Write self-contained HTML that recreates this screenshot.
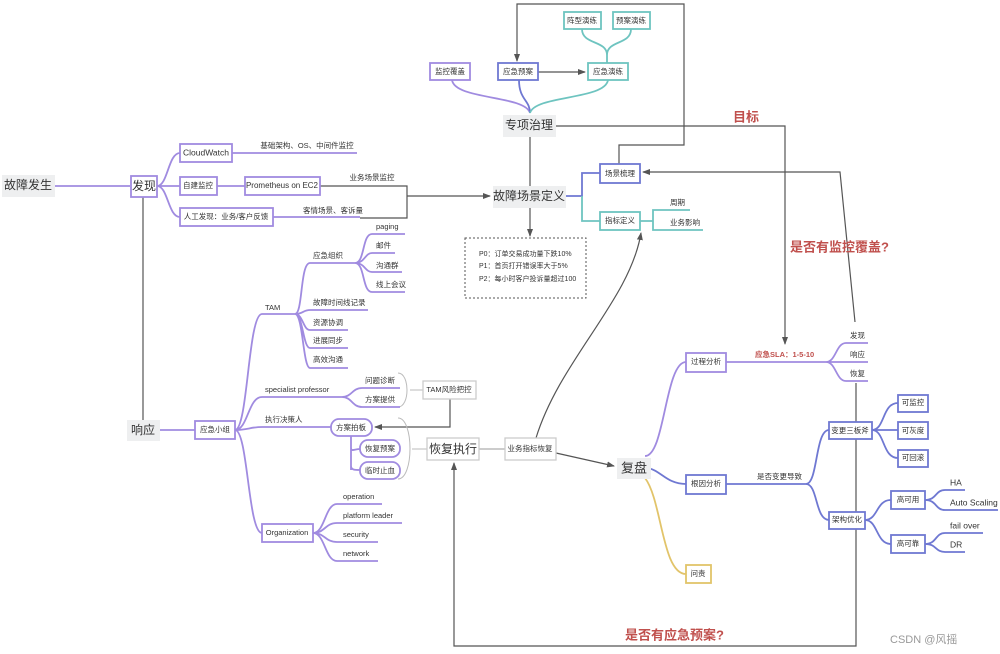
<!DOCTYPE html>
<html><head><meta charset="utf-8"><style>
html,body{margin:0;padding:0;background:#fff;}
svg{display:block;font-family:"Liberation Sans","Noto Sans CJK SC",sans-serif;}
text{fill:#333;font-size:7.5px;dominant-baseline:middle;}
.c{text-anchor:middle;}
.p{stroke:#a08be0;stroke-width:1.8;fill:none;}
.b{stroke:#6f78d2;stroke-width:1.8;fill:none;}
.t{stroke:#6ec4c0;stroke-width:1.8;fill:none;}
.y{stroke:#e2c46a;stroke-width:1.8;fill:none;}
.g{stroke:#555;stroke-width:1.2;fill:none;}
.lg{stroke:#ccc;stroke-width:2;fill:none;}
.bx{fill:#fff;stroke-width:1.8;}
.gb{fill:#eeeff0;}
.r{fill:#c0504d;font-weight:bold;}
</style></head><body>
<svg width="1000" height="654" viewBox="0 0 1000 654" xmlns="http://www.w3.org/2000/svg">
<defs><marker id="a" markerWidth="8" markerHeight="8" refX="7" refY="4" orient="auto" markerUnits="userSpaceOnUse"><path d="M0,1 L8,4 L0,7z" fill="#555"/></marker></defs>

<path class="g" d="M619,164 V145 H684 V4 H517 V61" marker-end="url(#a)"/>
<path class="g" d="M556,126 H785 V344" marker-end="url(#a)"/>
<path class="g" d="M855,322 L840,172 H643" marker-end="url(#a)"/>
<path class="g" d="M530,137 V186"/>
<path class="g" d="M530,207 V236" marker-end="url(#a)"/>
<path class="g" d="M538,72 H585" marker-end="url(#a)"/>
<path class="g" d="M320,186 H407 V218 H360"/>
<path class="g" d="M407,196 H490" marker-end="url(#a)"/>
<path class="g" d="M143,197 V420"/>
<path class="g" d="M450,399 V427 H375" marker-end="url(#a)"/>
<path class="g" d="M856,383 V646 H454 V463" marker-end="url(#a)"/>
<path class="g" d="M536,438 C560,360 630,300 641,233" marker-end="url(#a)"/>
<path class="g" d="M556,453 L614,466" marker-end="url(#a)"/>
<path class="lg" d="M479,449 H505"/>
<path d="M398,373 C410,373 410,407 398,407 M398,418 C414,418 414,479 398,479 M410,390 H423 M412,449 H427" stroke="#bbb" stroke-width="1" fill="none"/>

<path class="p" d="M55,186 H130"/>
<path class="p" d="M157,186 C168,186 168,153 180,153 M157,186 H180 M157,186 C168,186 168,217 180,217 M232,153 H357 M217,186 H245 M273,217 H360"/>
<path class="p" d="M160,430 H195"/>
<path class="p" d="M235,430 C248,430 248,314 262,314 H295 M235,430 C248,430 248,397 262,397 H342 M235,430 C248,430 250,427 262,427 H331 M235,430 C248,430 248,533 262,533"/>
<path class="p" d="M295,314 C303,314 300,263 310,263 H355 M295,314 C303,314 303,310 310,310 H368 M295,314 C303,314 303,330 310,330 H348 M295,314 C303,314 303,348 310,348 H348 M295,314 C303,314 303,368 310,368 H348"/>
<path class="p" d="M355,263 C365,263 362,234 372,234 H405 M355,263 C365,263 365,253 372,253 H395 M355,263 C365,263 365,272 372,272 H402 M355,263 C365,263 362,292 372,292 H405"/>
<path class="p" d="M342,397 C352,397 352,388 362,388 H400 M342,397 C352,397 352,407 362,407 H400"/>
<path class="p" d="M351,436 V470 M351,448 C351,452 355,449 360,449 M351,466 C351,470 355,470 360,470"/>
<path class="p" d="M313,533 C325,533 325,504 337,504 H382 M313,533 C325,533 325,523 337,523 H402 M313,533 C325,533 325,542 337,542 H378 M313,533 C325,533 325,561 337,561 H378"/>
<path class="p" d="M452,80 C455,100 525,95 530,113"/>
<path class="b" d="M519,80 C519,100 530,100 530,113"/>
<path class="t" d="M608,80 C605,100 535,95 530,113"/>
<path class="t" d="M582,29 C582,45 607,40 607,55 V63 M631,29 C631,45 607,40 607,55"/>
<path class="b" d="M566,196 H582 V173 H600"/>
<path class="t" d="M582,196 V221 H600 M640,221 H653 V210 H690 M653,221 V230 H703"/>
<path class="p" d="M645,456 C665,456 665,362 686,362 M726,362 H826 C836,362 836,343 846,343 H868 M826,362 H868 M826,362 C836,362 836,381 846,381 H868"/>
<path class="b" d="M645,468 C660,468 665,484 686,484 M726,484 H806 C818,484 815,430 829,430 M806,484 C818,484 815,520 829,520"/>
<path class="b" d="M872,430 C885,430 882,403 898,403 M872,430 H898 M872,430 C885,430 882,458 898,458"/>
<path class="b" d="M865,520 C878,520 876,500 891,500 M865,520 C878,520 876,544 891,544"/>
<path class="b" d="M925,500 C937,500 935,490 945,490 H965 M925,500 C937,500 935,510 945,510 H998 M925,544 C937,544 935,533 945,533 H983 M925,544 C937,544 935,552 945,552 H965"/>
<path class="y" d="M645,478 C662,500 662,574 686,574"/>

<rect class="gb" x="2" y="175" width="53" height="22"/><text x="28" y="186" class="c" style="font-size:12px">故障发生</text>
<rect class="gb" x="127" y="420" width="33" height="21"/><text x="143" y="431" class="c" style="font-size:12px">响应</text>
<rect class="gb" x="503" y="115" width="53" height="22"/><text x="529" y="126" class="c" style="font-size:12px">专项治理</text>
<rect class="gb" x="493" y="186" width="73" height="22"/><text x="529" y="197" class="c" style="font-size:12px">故障场景定义</text>
<rect class="gb" x="617" y="458" width="34" height="21"/><text x="634" y="469" class="c" style="font-size:13px">复盘</text>

<g stroke="#a08be0" class="bx">
<rect x="131" y="176" width="26" height="21"/><rect x="180" y="144" width="52" height="18"/><rect x="180" y="177" width="37" height="18"/><rect x="180" y="208" width="93" height="18"/><rect x="245" y="177" width="75" height="18"/><rect x="195" y="421" width="40" height="18"/><rect x="262" y="524" width="51" height="18"/><rect x="331" y="419" width="41" height="17" rx="8"/><rect x="360" y="440" width="40" height="17" rx="8"/><rect x="360" y="462" width="40" height="17" rx="8"/><rect x="430" y="63" width="40" height="17"/><rect x="686" y="353" width="40" height="19"/>
</g>
<g stroke="#6f78d2" class="bx">
<rect x="498" y="63" width="40" height="17"/><rect x="600" y="164" width="40" height="19"/><rect x="686" y="475" width="40" height="19"/><rect x="829" y="422" width="43" height="17"/><rect x="829" y="512" width="36" height="17"/><rect x="898" y="395" width="30" height="17"/><rect x="898" y="422" width="30" height="17"/><rect x="898" y="450" width="30" height="17"/><rect x="891" y="491" width="34" height="18"/><rect x="891" y="535" width="34" height="18"/>
</g>
<g stroke="#6ec4c0" class="bx">
<rect x="588" y="63" width="40" height="17"/><rect x="564" y="12" width="37" height="17"/><rect x="613" y="12" width="37" height="17"/><rect x="600" y="212" width="40" height="18"/>
</g>
<rect x="686" y="565" width="25" height="18" stroke="#e2c46a" class="bx"/>
<g stroke="#ccc" class="bx" style="stroke-width:1.3">
<rect x="423" y="381" width="53" height="18"/><rect x="427" y="438" width="52" height="22"/><rect x="505" y="438" width="51" height="22"/>
</g>
<rect x="465" y="238" width="121" height="60" fill="none" stroke="#555" stroke-dasharray="2,2"/>

<text x="144" y="187" class="c" style="font-size:12px">发现</text>
<text x="206" y="153" class="c" style="font-size:8.5px">CloudWatch</text>
<text x="198" y="186" class="c">自建监控</text>
<text x="226" y="217" class="c">人工发现：业务/客户反馈</text>
<text x="282" y="186" class="c" style="font-size:8px">Prometheus on EC2</text>
<text x="307" y="146" class="c">基础架构、OS、中间件监控</text>
<text x="372" y="178" class="c">业务场景监控</text>
<text x="333" y="211" class="c">客情场景、客诉量</text>
<text x="215" y="430" class="c">应急小组</text>
<text x="265" y="308">TAM</text>
<text x="313" y="256">应急组织</text>
<text x="376" y="227">paging</text><text x="376" y="246">邮件</text><text x="376" y="266">沟通群</text><text x="376" y="285">线上会议</text>
<text x="313" y="303">故障时间线记录</text><text x="313" y="323">资源协调</text><text x="313" y="341">进展同步</text><text x="313" y="360">高效沟通</text>
<text x="265" y="390">specialist professor</text>
<text x="365" y="381">问题诊断</text><text x="365" y="400">方案提供</text>
<text x="449" y="390" class="c">TAM风险把控</text>
<text x="265" y="420">执行决策人</text>
<text x="351" y="428" class="c">方案拍板</text><text x="380" y="449" class="c">恢复预案</text><text x="380" y="471" class="c">临时止血</text>
<text x="453" y="450" class="c" style="font-size:12px">恢复执行</text>
<text x="530" y="449" class="c">业务指标恢复</text>
<text x="287" y="533" class="c">Organization</text>
<text x="343" y="497">operation</text><text x="343" y="516">platform leader</text><text x="343" y="535">security</text><text x="343" y="554">network</text>
<text x="450" y="72" class="c">监控覆盖</text><text x="518" y="72" class="c">应急预案</text><text x="608" y="72" class="c">应急演练</text>
<text x="582" y="21" class="c">阵型演练</text><text x="631" y="21" class="c">预案演练</text>
<text x="620" y="174" class="c">场景梳理</text><text x="620" y="221" class="c">指标定义</text>
<text x="670" y="203">周期</text><text x="670" y="223">业务影响</text>
<text x="479" y="254" style="font-size:7px">P0：订单交易成功量下跌10%</text>
<text x="479" y="266" style="font-size:7px">P1：首页打开错误率大于5%</text>
<text x="479" y="279" style="font-size:7px">P2：每小时客户投诉量超过100</text>
<text x="706" y="362" class="c">过程分析</text><text x="706" y="484" class="c">根因分析</text><text x="698" y="574" class="c">问责</text>
<text x="755" y="355" class="r">应急SLA：1-5-10</text>
<text x="850" y="336">发现</text><text x="850" y="355">响应</text><text x="850" y="374">恢复</text>
<text x="757" y="477">是否变更导致</text>
<text x="850" y="431" class="c">变更三板斧</text><text x="847" y="520" class="c">架构优化</text>
<text x="913" y="403" class="c">可监控</text><text x="913" y="431" class="c">可灰度</text><text x="913" y="458" class="c">可回滚</text>
<text x="908" y="500" class="c">高可用</text><text x="908" y="544" class="c">高可靠</text>
<text x="950" y="483" style="font-size:8.5px">HA</text><text x="950" y="503" style="font-size:8.5px">Auto Scaling</text>
<text x="950" y="526" style="font-size:8.5px">fail over</text><text x="950" y="545" style="font-size:8.5px">DR</text>
<text x="733" y="118" class="r" style="font-size:13px">目标</text>
<text x="790" y="248" class="r" style="font-size:13px">是否有监控覆盖?</text>
<text x="625" y="636" class="r" style="font-size:13px">是否有应急预案?</text>
<text x="890" y="640" style="font-size:11px;fill:#999">CSDN @风摇</text>
</svg>
</body></html>
